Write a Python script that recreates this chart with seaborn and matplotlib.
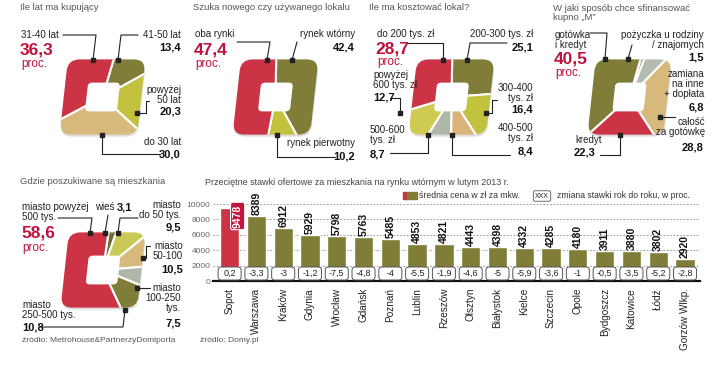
import numpy as np
import pandas as pd
import matplotlib
import matplotlib.pyplot as plt
import seaborn as sns
from matplotlib.patches import FancyBboxPatch, Rectangle
from matplotlib.transforms import Affine2D
from matplotlib.lines import Line2D

# --- data ---
wiek_labels = ["41-50 lat", "powyżej 50 lat", "do 30 lat", "31-40 lat"]
wiek_values = [13.4, 20.3, 30.0, 36.3]

rynek_labels = ["rynek wtórny", "rynek pierwotny", "oba rynki"]
rynek_values = [42.4, 10.2, 47.4]

koszt_labels = ["200-300 tys. zł", "300-400 tys. zł", "400-500 tys. zł",
                "500-600 tys. zł", "powyżej 600 tys. zł", "do 200 tys. zł"]
koszt_values = [25.1, 16.4, 8.4, 8.7, 12.7, 28.7]

finans_labels = ["pożyczka u rodziny / znajomych", "zamiana na inne + dopłata",
                 "całość za gotówkę", "kredyt", "gotówka i kredyt"]
finans_values = [1.5, 6.8, 28.8, 22.3, 40.5]

gdzie_labels = ["wieś", "miasto do 50 tys.", "miasto 50-100", "miasto 100-250 tys.",
                "miasto 250-500 tys.", "miasto powyżej 500 tys."]
gdzie_values = [3.1, 9.5, 10.5, 7.5, 10.8, 58.6]

cities = ["Sopot", "Warszawa", "Kraków", "Gdynia", "Wrocław", "Gdańsk", "Poznań",
          "Lublin", "Rzeszów", "Olsztyn", "Białystok", "Kielce", "Szczecin", "Opole",
          "Bydgoszcz", "Katowice", "Łódź", "Gorzów Wlkp."]
prices = [9478, 8389, 6912, 5929, 5798, 5763, 5485, 4853, 4821, 4443, 4398, 4332,
          4285, 4180, 3911, 3880, 3802, 2920]
changes = [0.2, -3.3, -3, -1.2, -7.5, -4.8, -4, -5.5, -1.9, -4.6, -5, -5.9, -3.6,
           -1, -0.5, -3.5, -5.2, -2.8]

RED = "#cc3446"
OLIVE = "#7f7d38"
YGREEN = "#c3c23f"
TAN = "#d8b97c"
GRAY = "#aeb7a8"
NUMRED = "#c0123c"

sns.set_theme(style="white")
plt.rcParams["font.family"] = ["Liberation Sans", "DejaVu Sans"]

W, H = 720, 369
fig = plt.figure(figsize=(7.2, 3.69), dpi=100)


def fx(x):
    return x / W


def fy(y):
    return 1 - y / H


def txt(x, y, s, kind="lab", ha="left"):
    st = {"lab": dict(size=7, color="#222222"),
          "val": dict(size=8, color="#111111", weight="bold"),
          "big": dict(size=12.5, color=NUMRED, weight="bold"),
          "proc": dict(size=8.5, color=NUMRED),
          "title": dict(size=6.8, color="#555555")}[kind]
    fig.text(fx(x), fy(y), s, ha=ha, va="center", linespacing=0.95, **st)


def lead(pts):
    xs = [fx(p[0]) for p in pts]
    ys = [fy(p[1]) for p in pts]
    fig.add_artist(Line2D(xs, ys, lw=0.8, color="#222222", transform=fig.transFigure))
    fig.add_artist(Line2D([xs[-1]], [ys[-1]], marker="s", ms=3.2, color="#222222",
                          transform=fig.transFigure))


def donut(box, values, colors, start, skew=6):
    x0, y0, x1, y1 = box
    ax = fig.add_axes([fx(x0), fy(y1), (x1 - x0) / W, (y1 - y0) / H])
    wedges, _ = ax.pie(values, colors=colors, startangle=start, counterclock=False,
                       radius=3, wedgeprops=dict(edgecolor="white", linewidth=1.5))
    ax.set_xlim(-1.08, 1.08)
    ax.set_ylim(-1.0, 1.0)
    ax.set_aspect("auto")
    ax.axis("off")
    tr = Affine2D().skew_deg(skew, 0) + ax.transData
    # soft shadow under the shape
    shadow = FancyBboxPatch((-0.9, -0.99), 1.84, 1.88,
                            boxstyle="round,pad=0,rounding_size=0.28",
                            transform=tr, fc="#dddddd", ec="none", zorder=0)
    ax.add_patch(shadow)
    outer = FancyBboxPatch((-0.92, -0.94), 1.84, 1.88,
                           boxstyle="round,pad=0,rounding_size=0.28",
                           transform=tr, fc="none", ec="none")
    ax.add_patch(outer)
    for w in wedges:
        w.set_transform(tr)
        w.set_clip_on(True)
        w.set_clip_path(outer)
        w.set_zorder(1)
    hole = FancyBboxPatch((-0.38, -0.36), 0.76, 0.72,
                          boxstyle="round,pad=0,rounding_size=0.1",
                          transform=tr, fc="white", ec="none", zorder=5)
    ax.add_patch(hole)


# --- 1: Ile lat ma kupujący ---
txt(20, 8, "Ile lat ma kupujący", "title")
donut((57, 57, 148, 137), wiek_values, [OLIVE, YGREEN, TAN, RED], 80)
txt(21, 35, "31-40 lat")
txt(20, 50, "36,3", "big")
txt(21, 64, "proc.", "proc")
lead([(63, 35), (96, 35), (93, 60)])
txt(181, 35, "41-50 lat", ha="right")
txt(181, 48, "13,4", "val", ha="right")
lead([(138, 35), (121, 35), (118, 60)])
txt(181, 95, "powyżej\n50 lat", ha="right")
txt(181, 111, "20,3", "val", ha="right")
lead([(149, 101), (146, 101), (146, 113), (137, 113)])
txt(181, 142, "do 30 lat", ha="right")
txt(181, 155, "30,0", "val", ha="right")
lead([(160, 154), (102, 154), (102, 135)])

# --- 2: Szuka nowego czy używanego lokalu ---
txt(193, 8, "Szuka nowego czy używanego lokalu", "title")
donut((230, 57, 321, 137), rynek_values, [OLIVE, YGREEN, RED], 95)
txt(195, 34, "oba rynki")
txt(194, 50, "47,4", "big")
txt(195, 64, "proc.", "proc")
lead([(237, 42), (270, 42), (267, 60)])
txt(355, 34, "rynek wtórny", ha="right")
txt(355, 48, "42,4", "val", ha="right")
lead([(297, 42), (292, 60)])
txt(355, 143, "rynek pierwotny", ha="right")
txt(355, 156, "10,2", "val", ha="right")
lead([(335, 157), (277, 157), (277, 135)])

# --- 3: Ile ma kosztować lokal? ---
txt(369, 8, "Ile ma kosztować lokal?", "title")
donut((406, 57, 497, 137), koszt_values,
      [OLIVE, YGREEN, "#dcb378", GRAY, "#cfcb52", RED], 95)
txt(377, 34, "do 200 tys. zł")
txt(375, 49, "28,7", "big")
txt(377, 62, "proc.", "proc")
lead([(407, 43), (443, 43), (443, 60)])
txt(533, 34, "200-300 tys. zł", ha="right")
txt(533, 47, "25,1", "val", ha="right")
lead([(507, 43), (470, 43), (467, 60)])
txt(373, 80, "powyżej\n600 tys. zł")
txt(373, 98, "12,7", "val")
lead([(390, 98), (400, 98), (400, 113)])
txt(533, 93, "300-400\ntys. zł", ha="right")
txt(533, 110, "16,4", "val", ha="right")
lead([(497, 100), (492, 100), (492, 113), (486, 113)])
txt(370, 135, "500-600\ntys. zł")
txt(370, 154, "8,7", "val")
lead([(390, 153), (428, 153), (428, 135)])
txt(533, 133, "400-500\ntys. zł", ha="right")
txt(533, 152, "8,4", "val", ha="right")
lead([(510, 155), (452, 155), (452, 135)])

# --- 4: W jaki sposób chce sfinansować kupno „M” ---
txt(553, 13, "W jaki sposób chce sfinansować\nkupno „M”", "title")
donut((585, 57, 674, 137), finans_values, ["#8f9a86", "#b3bcae", TAN, RED, OLIVE], 80)
txt(555, 40, "gotówka\ni kredyt")
txt(554, 59, "40,5", "big")
txt(555, 73, "proc.", "proc")
lead([(590, 33), (607, 33), (605, 59)])
txt(704, 40, "pożyczka u rodziny\n/ znajomych", ha="right")
txt(704, 57, "1,5", "val", ha="right")
lead([(632, 45), (628, 59)])
txt(704, 84, "zamiana\nna inne\n+ dopłata", ha="right")
txt(704, 107, "6,8", "val", ha="right")
txt(705, 127, "całość\nza gotówkę", ha="right")
txt(704, 148, "28,8", "val", ha="right")
lead([(675, 117), (660, 117)])
txt(575, 140, "kredyt")
txt(574, 153, "22,3", "val")
lead([(600, 155), (620, 155), (620, 135)])

# --- 5: Gdzie poszukiwane są mieszkania ---
txt(20, 181, "Gdzie poszukiwane są mieszkania", "title")
donut((58, 230, 148, 310), gdzie_values,
      ["#6f6d30", "#c9c955", TAN, GRAY, OLIVE, RED], 88)
txt(22, 212, "miasto powyżej\n500 tys.")
txt(21, 233, "58,6", "big")
txt(22, 248, "proc.", "proc")
lead([(58, 218), (92, 218), (90, 233)])
txt(95, 207, "wieś")
txt(117, 207, "3,1", "val")
lead([(108, 215), (105, 233)])
txt(181, 210, "miasto\ndo 50 tys.", ha="right")
txt(181, 228, "9,5", "val", ha="right")
lead([(138, 218), (120, 218), (118, 233)])
txt(183, 251, "miasto\n50-100", ha="right")
txt(183, 269, "10,5", "val", ha="right")
lead([(150, 246), (146, 246), (146, 258), (143, 258)])
txt(181, 298, "miasto\n100-250\ntys.", ha="right")
txt(181, 323, "7,5", "val", ha="right")
lead([(150, 288), (137, 288)])
txt(22, 310, "miasto\n250-500 tys.")
txt(22, 328, "10,8", "val")
lead([(40, 327), (123, 327), (125, 310)])
fig.text(fx(22), fy(341), "źródło: Metrohouse&PartnerzyDomiporta", size=6,
         color="#555555", ha="left", va="center")

# --- 6: bar chart ---
fig.text(fx(205), fy(183),
         "Przeciętne stawki ofertowe za mieszkania na rynku wtórnym w lutym 2013 r.",
         size=6.5, color="#444444", ha="left", va="center")
fig.add_artist(Rectangle((fx(403), fy(199)), 4 / W, 7 / H, color=RED,
                         transform=fig.transFigure))
fig.add_artist(Rectangle((fx(407), fy(199)), 10 / W, 7 / H, color=OLIVE,
                         transform=fig.transFigure))
fig.text(fx(419), fy(196), "średnia cena w zł za mkw.", size=6.2, color="#333333",
         ha="left", va="center")
fig.text(fx(542), fy(196), "XXX", size=5, color="#222222", ha="center", va="center",
         bbox=dict(boxstyle="round,pad=0.25", fc="white", ec="#555555", lw=0.6))
fig.text(fx(557), fy(196), "zmiana stawki rok do roku, w proc.", size=6.2,
         color="#333333", ha="left", va="center")
fig.text(fx(200), fy(341), "źródło: Domy.pl", size=6, color="#555555", ha="left",
         va="center")

df = pd.DataFrame({"miasto": cities, "cena": prices})
bar_colors = [RED] + [OLIVE] * (len(cities) - 1)
bax = fig.add_axes([fx(213), fy(281), (700 - 213) / W, (281 - 195) / H])
sns.barplot(data=df, x="miasto", y="cena", hue="miasto", palette=bar_colors,
            legend=False, width=0.72, saturation=1, ax=bax, zorder=2)
bax.set_xlim(-0.62, 17.56)
bax.set_ylim(0, 11170)
bax.set_yticks(range(0, 10001, 2000))
bax.yaxis.grid(True, ls=(0, (2, 2)), color="#888888", lw=0.6)
bax.set_axisbelow(True)
for s in ["top", "right", "left"]:
    bax.spines[s].set_visible(False)
bax.spines["bottom"].set_linewidth(1.6)
bax.spines["bottom"].set_color("#111111")
bax.set_xlabel("")
bax.set_ylabel("")
bax.tick_params(axis="y", labelsize=6, labelcolor="#666666", length=0, pad=2)
bax.tick_params(axis="x", labelsize=7.2, labelcolor="#222222", length=0, pad=5,
                rotation=90)
bax.set_facecolor("none")

for i, (p, c) in enumerate(zip(prices, changes)):
    if i == 0:
        bax.text(i + 0.3, 8450, str(p), rotation=90, ha="center", va="center",
                 size=7.5, weight="bold", color="white", zorder=5,
                 bbox=dict(boxstyle="round,pad=0.2", fc="#c5143e", ec="white", lw=0.8))
    else:
        bax.text(i, p + 120, str(p), rotation=90, ha="center", va="bottom",
                 size=7.5, weight="bold", color="#111111", zorder=5)
    bax.add_patch(FancyBboxPatch((i - 0.43, 130), 0.86, 1690,
                                 boxstyle="round,pad=0,rounding_size=0.12",
                                 mutation_aspect=3480, fc="white", ec="#555555",
                                 lw=0.7, zorder=3))
    bax.text(i, 960, f"{c:g}".replace(".", ","), ha="center", va="center",
             size=6.5, color="#222222", zorder=4)

fig.savefig("out.png", dpi=100)
